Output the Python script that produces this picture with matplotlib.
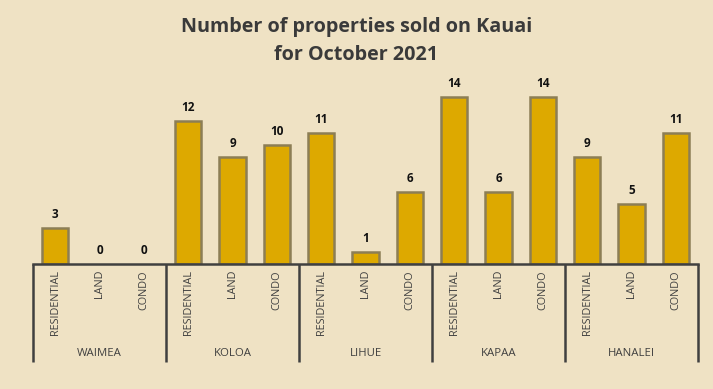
import matplotlib
matplotlib.use("Agg")
import matplotlib.pyplot as plt
import numpy as np

groups = ["WAIMEA", "KOLOA", "LIHUE", "KAPAA", "HANALEI"]
types = ["RESIDENTIAL", "LAND", "CONDO"]
values = [
    [3, 0, 0],
    [12, 9, 10],
    [11, 1, 6],
    [14, 6, 14],
    [9, 5, 11],
]

plt.rcParams['font.family'] = ['Open Sans', 'DejaVu Sans']

W, H = 713, 389
fig = plt.figure(figsize=(W / 100, H / 100), dpi=100)
fig.patch.set_facecolor('#EFE2C4')

def fx(px):
    return px / W

def fy(py):
    return 1 - py / H

left, right, base, top = 33, 698, 264, 73
ax = fig.add_axes([fx(left), fy(base), fx(right) - fx(left), fy(top) - fy(base)])
ax.set_facecolor('none')

flat_vals = [v for g in values for v in g]
flat_lbls = [t for g in values for t in types]
n = len(flat_vals)
x = np.arange(n)
lws = [1.8 if v > 0 else 0 for v in flat_vals]
bars = ax.bar(x, flat_vals, width=0.6, color='#DDA900', edgecolor='#8C7E55', linewidth=lws)
ax.set_xlim(-0.5, n - 0.5)
ax.set_ylim(0, 16)
for s in ['top', 'right', 'left']:
    ax.spines[s].set_visible(False)
ax.spines['bottom'].set_color('#404040')
ax.spines['bottom'].set_linewidth(1.8)
ax.set_xticks([])
ax.set_yticks([])

for xi, v in zip(x, flat_vals):
    ax.annotate(str(v), (xi, v), xytext=(0, 5), textcoords='offset points',
                ha='center', va='bottom', fontsize=8.5, fontweight='bold', color='#111111')

# category labels
trans = matplotlib.transforms.blended_transform_factory(ax.transData, fig.transFigure)
for xi, lbl in zip(x, flat_lbls):
    ax.text(xi, fy(270), lbl, rotation=90, ha='center', va='top', fontsize=7.8,
            color='#404040', transform=trans, clip_on=False)

# group separators and labels
for gi in range(len(groups) + 1):
    xs = gi * 3 - 0.5
    ax.plot([xs, xs], [fy(base), fy(362)], color='#404040', lw=1.8, transform=trans,
            clip_on=False, solid_capstyle='butt')
for gi, g in enumerate(groups):
    ax.text(gi * 3 + 1, fy(354), g, ha='center', va='center', fontsize=8.2,
            color='#404040', transform=trans, clip_on=False)

fig.text(0.5, fy(27), "Number of properties sold on Kauai", ha='center', va='center',
         fontsize=14.2, fontweight='bold', color='#3A3A3A')
fig.text(0.5, fy(55), "for October 2021", ha='center', va='center',
         fontsize=14.2, fontweight='bold', color='#3A3A3A')

fig.savefig("out.png", dpi=100, facecolor=fig.get_facecolor())
